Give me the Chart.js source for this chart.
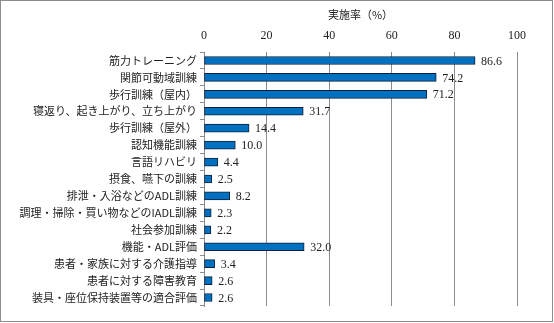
<!DOCTYPE html>
<html>
<head>
<meta charset="utf-8">
<script src="https://cdn.jsdelivr.net/npm/chart.js@4"></script>
<style>
html,body{margin:0;padding:0;background:#fff;}
#wrap{position:relative;width:554px;height:323px;}
</style>
</head>
<body>
<div id="wrap"><canvas id="c" width="554" height="323"></canvas></div>
<script>
const categories = [
  "筋力トレーニング",
  "関節可動域訓練",
  "歩行訓練（屋内）",
  "寝返り、起き上がり、立ち上がり",
  "歩行訓練（屋外）",
  "認知機能訓練",
  "言語リハビリ",
  "摂食、嚥下の訓練",
  "排泄・入浴などのADL訓練",
  "調理・掃除・買い物などのIADL訓練",
  "社会参加訓練",
  "機能・ADL評価",
  "患者・家族に対する介護指導",
  "患者に対する障害教育",
  "装具・座位保持装置等の適合評価"
];
const values = [86.6, 74.2, 71.2, 31.7, 14.4, 10.0, 4.4, 2.5, 8.2, 2.3, 2.2, 32.0, 3.4, 2.6, 2.6];
const xTicks = [0, 20, 40, 60, 80, 100];
const axisTitle = "実施率（%）";

const labelPlugin = {
  id: 'valueLabels',
  afterDatasetsDraw(chart) {
    const ctx = chart.ctx;
    const meta = chart.getDatasetMeta(0);
    ctx.save();
    ctx.font = '12px "Liberation Serif", "DejaVu Serif", serif';
    ctx.fillStyle = '#222';
    ctx.textBaseline = 'middle';
    ctx.textAlign = 'left';
    meta.data.forEach((bar, i) => {
      ctx.fillText(values[i].toFixed(1), bar.x + 6, bar.y + 1);
    });
    ctx.restore();
  }
};
const borderPlugin = {
  id: 'outerBorder',
  afterDraw(chart) {
    const ctx = chart.ctx;
    ctx.save();
    ctx.strokeStyle = '#8c8c8c';
    ctx.lineWidth = 1;
    ctx.strokeRect(0.5, 0.5, 552, 321);
    ctx.restore();
  }
};

new Chart(document.getElementById('c'), {
  type: 'bar',
  data: {
    labels: categories,
    datasets: [{
      data: values,
      backgroundColor: '#0070C0',
      borderColor: '#10203a',
      borderWidth: 1,
      borderSkipped: false,
      barThickness: 8
    }]
  },
  options: {
    indexAxis: 'y',
    responsive: false,
    animation: false,
    devicePixelRatio: 1,
    layout: { padding: { left: 0, top: 0, right: 37, bottom: 17 } },
    plugins: { legend: { display: false }, tooltip: { enabled: false } },
    scales: {
      x: {
        position: 'top',
        min: 0, max: 100,
        afterBuildTicks(scale) { scale.ticks = xTicks.map(v => ({ value: v })); },
        afterFit(scale) { scale.height = 52; },
        border: { display: false },
        grid: { color: '#8c8c8c', lineWidth: 1, drawTicks: false },
        ticks: {
          padding: 9,
          color: '#222',
          font: { family: '"Liberation Serif", "DejaVu Serif", serif', size: 12 }
        },
        title: {
          display: true,
          text: axisTitle,
          color: '#222',
          padding: { top: 8, bottom: 0 },
          font: { family: '"Noto Sans CJK JP", sans-serif', size: 11 }
        }
      },
      y: {
        afterFit(scale) { scale.width = 204; },
        border: { display: true, color: '#8c8c8c' },
        grid: { offset: true, drawOnChartArea: false, drawTicks: true, tickLength: 4, color: '#8c8c8c' },
        ticks: {
          padding: 3,
          color: '#222',
          autoSkip: false,
          font: { family: '"Noto Sans CJK JP", sans-serif', size: 11 }
        }
      }
    }
  },
  plugins: [labelPlugin, borderPlugin]
});
</script>
</body>
</html>
